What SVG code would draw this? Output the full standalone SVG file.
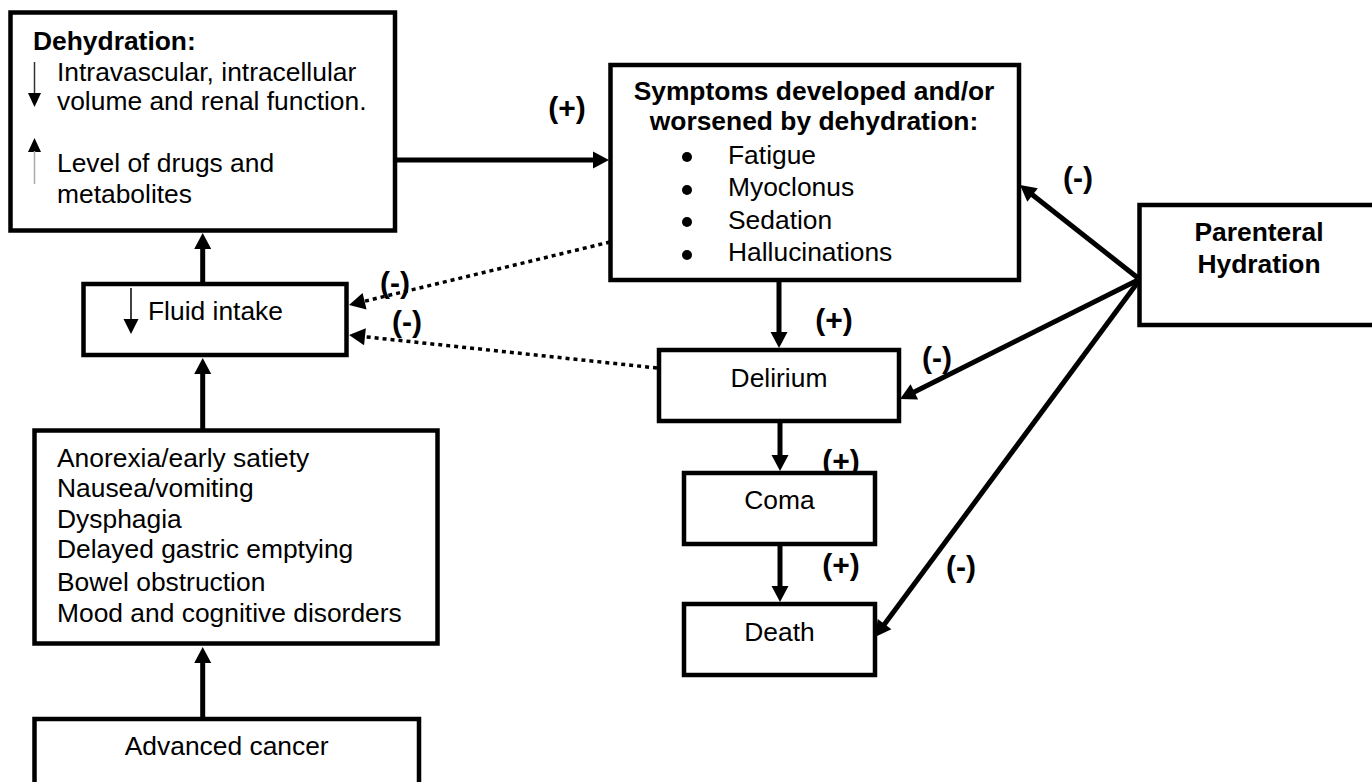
<svg xmlns="http://www.w3.org/2000/svg" width="1372" height="782" viewBox="0 0 1372 782">
<style>
.box{fill:#fff;stroke:#000;stroke-width:4.5}
.t{font-family:"Liberation Sans",Arial,Helvetica,sans-serif;font-size:26.4px;fill:#000}
.b{font-weight:bold}
.m{text-anchor:middle}
.lbl{font-family:"Liberation Sans",Arial,Helvetica,sans-serif;font-size:30px;font-weight:bold;text-anchor:middle;fill:#000}
.conn{stroke:#000;stroke-width:5;fill:none;marker-end:url(#arr)}
.dot{stroke:#000;stroke-width:3.5;stroke-dasharray:4 4;fill:none;marker-end:url(#arr)}
</style>
<defs>
<marker id="arr" markerUnits="userSpaceOnUse" markerWidth="17" markerHeight="17" refX="8" refY="8.5" orient="auto" overflow="visible">
<path d="M0,0 L16,8.5 L0,17 z" fill="#000"/>
</marker>
</defs>
<rect width="1372" height="782" fill="#fff"/>
<g id="connectors">
<line class="conn" x1="397" y1="160" x2="601" y2="160"/>
<line class="conn" x1="202.7" y1="284" x2="202.7" y2="241"/>
<line class="conn" x1="202.7" y1="430" x2="202.7" y2="366"/>
<line class="conn" x1="202.7" y1="719" x2="202.7" y2="655"/>
<line class="conn" x1="779" y1="280" x2="779" y2="340"/>
<line class="conn" x1="780" y1="421" x2="780" y2="463"/>
<line class="conn" x1="780" y1="544" x2="780" y2="594"/>
<line class="conn" x1="1138" y1="278" x2="1026.3" y2="190"/>
<line class="conn" x1="1138" y1="280" x2="907.2" y2="395.4"/>
<line class="conn" x1="1138" y1="282" x2="879.8" y2="630.6"/>
<line class="dot" x1="610" y1="242" x2="356.8" y2="303.1"/>
<line class="dot" x1="657" y1="368" x2="357" y2="335.9"/>
<text class="lbl" x="567" y="118">(+)</text>
<text class="lbl" x="834" y="330">(+)</text>
<text class="lbl" x="841" y="471">(+)</text>
<text class="lbl" x="841" y="575">(+)</text>
<text class="lbl" x="1078" y="188">(-)</text>
<text class="lbl" x="937" y="368">(-)</text>
<text class="lbl" x="961" y="577">(-)</text>
<text class="lbl" x="395" y="293">(-)</text>
<text class="lbl" x="407" y="332">(-)</text>
</g>
<g id="dehydration">
<rect class="box" x="10.5" y="12.5" width="384.5" height="218"/>
<text class="t b" x="33" y="50">Dehydration:</text>
<line x1="34.5" y1="62" x2="34.5" y2="94" stroke="#333" stroke-width="1.5"/>
<polygon points="28,93 41,93 34.5,107" fill="#000"/>
<text class="t" x="57" y="81">Intravascular, intracellular</text>
<text class="t" x="57" y="110">volume and renal function.</text>
<polygon points="28,152 41,152 34.5,138" fill="#000"/>
<line x1="34.5" y1="151" x2="34.5" y2="184" stroke="#aaa" stroke-width="1.5"/>
<text class="t" x="57" y="172">Level of drugs and</text>
<text class="t" x="57" y="203">metabolites</text>
</g>
<g id="fluid">
<rect class="box" x="83.5" y="284" width="263" height="71"/>
<line x1="131" y1="288" x2="131" y2="320" stroke="#000" stroke-width="1.5"/>
<polygon points="123.5,319 138.5,319 131,334" fill="#000"/>
<text class="t" x="148" y="320">Fluid intake</text>
</g>
<g id="causes">
<rect class="box" x="34.5" y="430.5" width="403" height="213"/>
<text class="t" x="57" y="467">Anorexia/early satiety</text>
<text class="t" x="57" y="497">Nausea/vomiting</text>
<text class="t" x="57" y="528">Dysphagia</text>
<text class="t" x="57" y="558">Delayed gastric emptying</text>
<text class="t" x="57" y="591">Bowel obstruction</text>
<text class="t" x="57" y="622">Mood and cognitive disorders</text>
</g>
<g id="cancer">
<rect class="box" x="34.5" y="719" width="384.5" height="80"/>
<text class="t m" x="226.7" y="755">Advanced cancer</text>
</g>
<g id="symptoms">
<rect class="box" x="610.5" y="65" width="408.5" height="215"/>
<text class="t b m" x="814" y="100">Symptoms developed and/or</text>
<text class="t b m" x="814" y="130">worsened by dehydration:</text>
<circle cx="687" cy="157" r="5" fill="#000"/>
<circle cx="687" cy="190" r="5" fill="#000"/>
<circle cx="687" cy="222" r="5" fill="#000"/>
<circle cx="687" cy="255" r="5" fill="#000"/>
<text class="t" x="728" y="163.5">Fatigue</text>
<text class="t" x="728" y="196">Myoclonus</text>
<text class="t" x="728" y="228.5">Sedation</text>
<text class="t" x="728" y="261">Hallucinations</text>
</g>
<g id="parenteral">
<rect class="box" x="1139.5" y="205" width="240" height="120"/>
<text class="t b m" x="1259" y="241">Parenteral</text>
<text class="t b m" x="1259" y="273">Hydration</text>
</g>
<g id="delirium">
<rect class="box" x="659" y="350" width="240" height="71"/>
<text class="t m" x="779" y="386.5">Delirium</text>
</g>
<g id="coma">
<rect class="box" x="684" y="473" width="191" height="71"/>
<text class="t m" x="779.5" y="509">Coma</text>
</g>
<g id="death">
<rect class="box" x="684" y="604" width="191" height="71"/>
<text class="t m" x="779.5" y="640.5">Death</text>
</g>
</svg>
